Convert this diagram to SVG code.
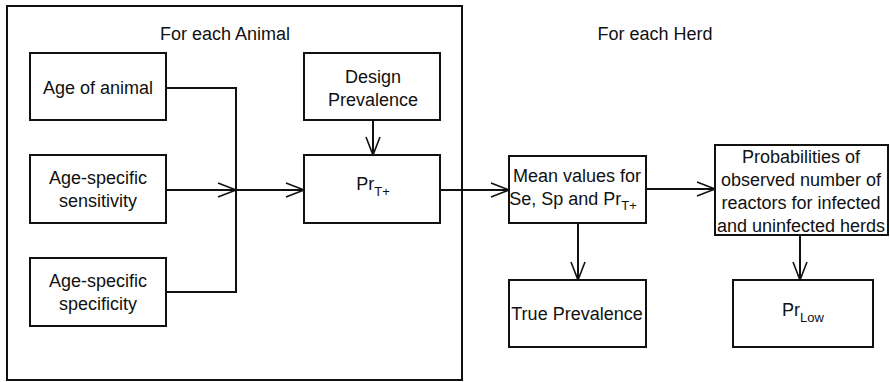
<svg xmlns="http://www.w3.org/2000/svg" width="890" height="382" viewBox="0 0 890 382">
<defs>
<marker id="v" viewBox="-20 -10 22 20" refX="0" refY="0" markerWidth="22" markerHeight="20" markerUnits="userSpaceOnUse" orient="auto" overflow="visible">
<path d="M-18,-7 L0,0 L-18,7" fill="none" stroke="#111" stroke-width="1.6"/>
</marker>
</defs>
<style>
.box{fill:#fff;stroke:#111;stroke-width:2}
.ln{fill:none;stroke:#111;stroke-width:2}
text{font-family:"Liberation Sans",Arial,sans-serif;font-size:18px;fill:#111;text-anchor:middle}
.sub{font-size:13px}
</style>
<rect x="0" y="0" width="890" height="382" fill="#fff"/>
<g id="frame">
<rect x="7" y="6" width="455" height="374" fill="none" stroke="#111" stroke-width="2"/>
<text x="225" y="40">For each Animal</text>
<text x="655" y="40">For each Herd</text>
</g>
<g id="connectors">
<path class="ln" d="M166,88 H236 V292 H166"/>
<path class="ln" d="M166,190 H236" marker-end="url(#v)"/>
<path class="ln" d="M236,190 H304" marker-end="url(#v)"/>
<path class="ln" d="M373,120 V155" marker-end="url(#v)"/>
<path class="ln" d="M440,190 H509" marker-end="url(#v)"/>
<path class="ln" d="M646,189 H715" marker-end="url(#v)"/>
<path class="ln" d="M578,223 V280" marker-end="url(#v)"/>
<path class="ln" d="M800,235 V280" marker-end="url(#v)"/>
</g>
<g id="age">
<rect class="box" x="30" y="53" width="136" height="67"/>
<text x="98" y="94">Age of animal</text>
</g>
<g id="sensitivity">
<rect class="box" x="30" y="155" width="136" height="68"/>
<text x="98" y="184">Age-specific</text>
<text x="98" y="207">sensitivity</text>
</g>
<g id="specificity">
<rect class="box" x="30" y="258" width="136" height="68"/>
<text x="98" y="287">Age-specific</text>
<text x="98" y="310">specificity</text>
</g>
<g id="design">
<rect class="box" x="304" y="53" width="136" height="67"/>
<text x="373" y="83">Design</text>
<text x="373" y="106">Prevalence</text>
</g>
<g id="prt">
<rect class="box" x="304" y="155" width="136" height="68"/>
<text x="373" y="190">Pr<tspan class="sub" dy="6">T+</tspan></text>
</g>
<g id="mean">
<rect class="box" x="509" y="156" width="137" height="67"/>
<text x="577" y="182">Mean values for</text>
<text x="573" y="205">Se, Sp and Pr<tspan class="sub" dy="5">T+</tspan></text>
</g>
<g id="prob">
<rect class="box" x="715" y="145" width="173" height="90"/>
<text x="801" y="163">Probabilities of</text>
<text x="801" y="186">observed number of</text>
<text x="801" y="209">reactors for infected</text>
<text x="801" y="232">and uninfected herds</text>
</g>
<g id="trueprev">
<rect class="box" x="509" y="280" width="137" height="67"/>
<text x="577" y="320">True Prevalence</text>
</g>
<g id="prlow">
<rect class="box" x="733" y="280" width="140" height="67"/>
<text x="803" y="316">Pr<tspan class="sub" dy="6">Low</tspan></text>
</g>
</svg>
